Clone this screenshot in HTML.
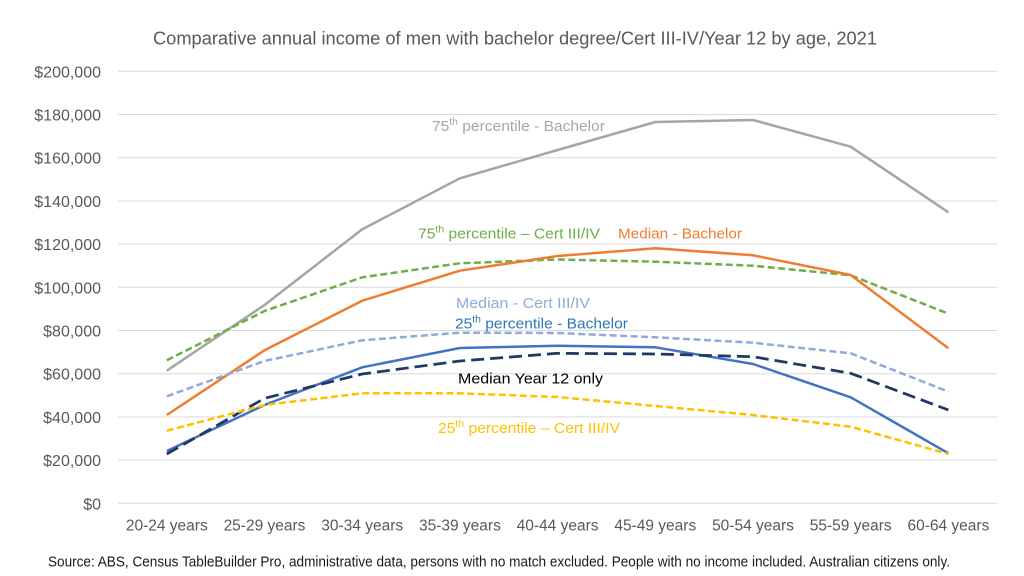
<!DOCTYPE html>
<html>
<head>
<meta charset="utf-8">
<style>
  html,body{margin:0;padding:0;background:#fff;}
  svg{display:block;}
  text{font-family:"Liberation Sans",sans-serif;}
</style>
</head>
<body>
<svg width="1024" height="576" viewBox="0 0 1024 576" xmlns="http://www.w3.org/2000/svg">
  <rect width="1024" height="576" fill="#fff"/>
  <!-- Title -->
  <text x="153" y="44.5" font-size="18" fill="#595959" textLength="724" lengthAdjust="spacingAndGlyphs">Comparative annual income of men with bachelor degree/Cert III-IV/Year 12  by age, 2021</text>

  <!-- gridlines -->
  <g stroke="#d9d9d9" stroke-width="1">
    <line x1="118" x2="997" y1="71.3" y2="71.3"/>
    <line x1="118" x2="997" y1="114.5" y2="114.5"/>
    <line x1="118" x2="997" y1="157.7" y2="157.7"/>
    <line x1="118" x2="997" y1="200.9" y2="200.9"/>
    <line x1="118" x2="997" y1="244.1" y2="244.1"/>
    <line x1="118" x2="997" y1="287.3" y2="287.3"/>
    <line x1="118" x2="997" y1="330.5" y2="330.5"/>
    <line x1="118" x2="997" y1="373.7" y2="373.7"/>
    <line x1="118" x2="997" y1="416.9" y2="416.9"/>
    <line x1="118" x2="997" y1="460.1" y2="460.1"/>
    <line x1="118" x2="997" y1="503.3" y2="503.3"/>
  </g>

  <!-- y labels -->
  <g font-size="16" fill="#595959" text-anchor="end">
    <text x="101" y="77.3">$200,000</text>
    <text x="101" y="120.5">$180,000</text>
    <text x="101" y="163.7">$160,000</text>
    <text x="101" y="206.9">$140,000</text>
    <text x="101" y="250.1">$120,000</text>
    <text x="101" y="293.3">$100,000</text>
    <text x="101" y="336.5">$80,000</text>
    <text x="101" y="379.7">$60,000</text>
    <text x="101" y="422.9">$40,000</text>
    <text x="101" y="466.1">$20,000</text>
    <text x="101" y="509.3">$0</text>
  </g>

  <!-- x labels -->
  <g font-size="15.5" fill="#595959" text-anchor="middle">
    <text x="166.8" y="530.5">20-24 years</text>
    <text x="264.5" y="530.5">25-29 years</text>
    <text x="362.2" y="530.5">30-34 years</text>
    <text x="459.9" y="530.5">35-39 years</text>
    <text x="557.6" y="530.5">40-44 years</text>
    <text x="655.3" y="530.5">45-49 years</text>
    <text x="753.0" y="530.5">50-54 years</text>
    <text x="850.7" y="530.5">55-59 years</text>
    <text x="948.4" y="530.5">60-64 years</text>
  </g>

  <!-- series -->
  <g fill="none" stroke-linejoin="round">
    <!-- 75th Bachelor gray -->
    <polyline stroke="#a5a5a5" stroke-width="2.5"
      points="166.8,370.7 264.5,305 362.2,229.3 459.9,178.3 557.6,150 655.3,122 753.0,120 850.7,146.7 948.4,212.3"/>
    <!-- 75th Cert III/IV green dashed -->
    <polyline stroke="#70ad47" stroke-width="2.5" stroke-dasharray="7,3.5"
      points="166.8,360.3 264.5,311 362.2,277.3 459.9,263.3 557.6,259.5 655.3,261.7 753.0,265.7 850.7,275.3 948.4,313.7"/>
    <!-- Median Bachelor orange -->
    <polyline stroke="#ed7d31" stroke-width="2.5"
      points="166.8,415 264.5,350.3 362.2,300.7 459.9,270.7 557.6,256 655.3,248.3 753.0,255.3 850.7,275 948.4,348.3"/>
    <!-- Median Cert III/IV light blue dashed -->
    <polyline stroke="#8faadc" stroke-width="2.5" stroke-dasharray="7,3.5"
      points="166.8,396.3 264.5,361 362.2,340.3 459.9,332.7 557.6,333 655.3,337.3 753.0,342.7 850.7,353.3 948.4,391.7"/>
    <!-- 25th Bachelor blue -->
    <polyline stroke="#4472c4" stroke-width="2.5"
      points="166.8,451 264.5,405 362.2,367.3 459.9,348 557.6,345.7 655.3,347.3 753.0,364 850.7,397.3 948.4,453.3"/>
    <!-- Median Year 12 navy long dash -->
    <polyline stroke="#203864" stroke-width="2.75" stroke-dasharray="13,6"
      points="166.8,454 264.5,398.3 362.2,374 459.9,361 557.6,353.3 655.3,354 753.0,356.7 850.7,373.3 948.4,410"/>
    <!-- 25th Cert III/IV yellow dashed -->
    <polyline stroke="#ffc000" stroke-width="2.5" stroke-dasharray="7,3.5"
      points="166.8,430.7 264.5,405 362.2,393.3 459.9,393.3 557.6,397 655.3,406 753.0,415 850.7,426.7 948.4,454"/>
  </g>

  <!-- annotations -->
  <text x="432" y="131" font-size="15" fill="#a6a6a6" textLength="173" lengthAdjust="spacingAndGlyphs">75<tspan font-size="10" dy="-6">th</tspan><tspan dy="6"> percentile  - Bachelor</tspan></text>
  <text x="418" y="238.5" font-size="15" fill="#70ad47" textLength="182" lengthAdjust="spacingAndGlyphs">75<tspan font-size="10" dy="-6">th</tspan><tspan dy="6"> percentile – Cert III/IV</tspan></text>
  <text x="618" y="238.5" font-size="15" fill="#ed7d31" textLength="124" lengthAdjust="spacingAndGlyphs">Median - Bachelor</text>
  <text x="456" y="308" font-size="15" fill="#8faadc" textLength="134" lengthAdjust="spacingAndGlyphs">Median -  Cert III/IV</text>
  <text x="455" y="328.5" font-size="15" fill="#2e75b6" textLength="173" lengthAdjust="spacingAndGlyphs">25<tspan font-size="10" dy="-6">th</tspan><tspan dy="6"> percentile  - Bachelor</tspan></text>
  <text x="458" y="383.5" font-size="15" fill="#000000" textLength="145" lengthAdjust="spacingAndGlyphs">Median Year  12 only</text>
  <text x="438" y="433" font-size="15" fill="#ffc000" textLength="182" lengthAdjust="spacingAndGlyphs">25<tspan font-size="10" dy="-6">th</tspan><tspan dy="6"> percentile – Cert III/IV</tspan></text>

  <!-- source -->
  <text x="48" y="566.5" font-size="14.5" fill="#1a1a1a" textLength="902" lengthAdjust="spacingAndGlyphs">Source: ABS, Census TableBuilder Pro, administrative data, persons with no match excluded. People with no income included. Australian citizens only.</text>
</svg>
</body>
</html>
